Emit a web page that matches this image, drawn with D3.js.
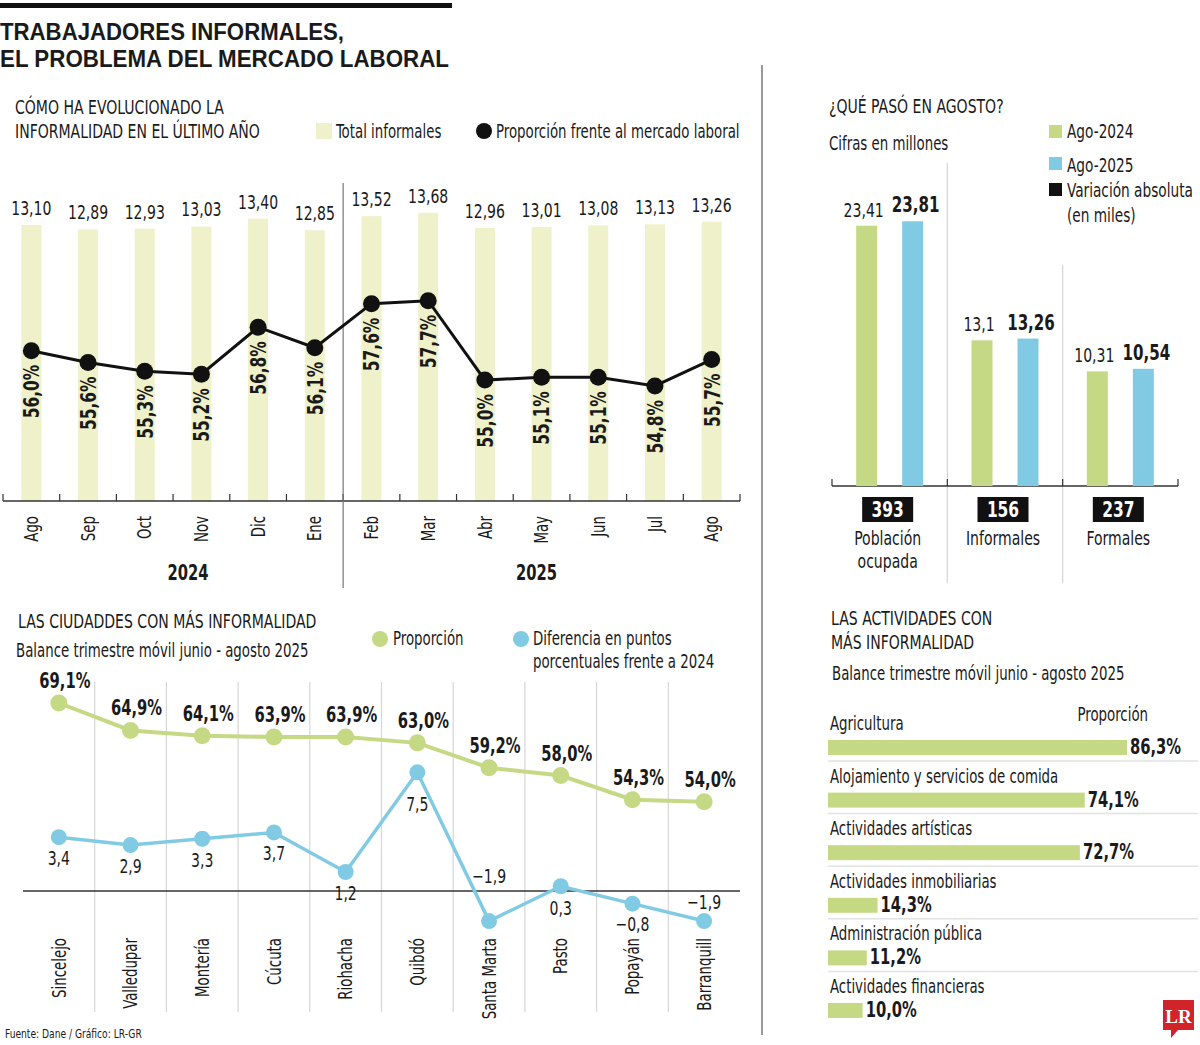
<html>
<script src='https://d3js.org/d3.v7.min.js'></script>
<style>
    body { margin: 0; background: #fff; }
    text { font-family: 'Liberation Sans Narrow', 'DejaVu Sans Condensed', sans-serif; fill: #1a1a1a; }
</style>

<body onload='init()'>
    <svg width=1200 height=1045></svg>
    <script>
        // Data: informales per month (millions) and share of labour market (%)
        const months = ['Ago', 'Sep', 'Oct', 'Nov', 'Dic', 'Ene', 'Feb', 'Mar', 'Abr', 'May', 'Jun', 'Jul', 'Ago'];
        const totalInformales = [13.10, 12.89, 12.93, 13.03, 13.40, 12.85, 13.52, 13.68, 12.96, 13.01, 13.08, 13.13, 13.26];
        const proporcion = [56.0, 55.6, 55.3, 55.2, 56.8, 56.1, 57.6, 57.7, 55.0, 55.1, 55.1, 54.8, 55.7];
        const years = ['2024', '2025'];
        const yearMonths = [6, 7];

        // August comparison
        const grupos = [['Población', 'ocupada'], ['Informales'], ['Formales']];
        const ago2024 = [23.41, 13.1, 10.31];
        const ago2025 = [23.81, 13.26, 10.54];
        const variacion = [393, 156, 237];

        // Cities
        const ciudades = ['Sincelejo', 'Valledupar', 'Montería', 'Cúcuta', 'Riohacha', 'Quibdó', 'Santa Marta', 'Pasto', 'Popayán', 'Barranquill'];
        const propCiudad = [69.1, 64.9, 64.1, 63.9, 63.9, 63.0, 59.2, 58.0, 54.3, 54.0];
        const difCiudad = [3.4, 2.9, 3.3, 3.7, 1.2, 7.5, -1.9, 0.3, -0.8, -1.9];
        const difLabelDy = [28, 28, 28, 28, 28, 39, -38, 29, 27, -12];  // label placement, not data

        // Activities
        const actividades = ['Agricultura', 'Alojamiento y servicios de comida', 'Actividades artísticas', 'Actividades inmobiliarias', 'Administración pública', 'Actividades financieras'];
        const propActividad = [86.3, 74.1, 72.7, 14.3, 11.2, 10.0];

        const PALE = '#eef1c9', GREEN = '#c5d985', BLUE = '#80cbe3', GRID = '#d6d6d6';
        const NARROW = 0.78;  // squeeze the condensed font to the reference width
        const coma = v => String(v).replace('.', ',');
        const f2 = v => d3.format('.2f')(v).replace('.', ',');
        const f1 = v => d3.format('.1f')(v).replace('.', ',');

        function init() {
            const svg = d3.select('svg');

            // Header
            svg.append('rect').attr('x', 0).attr('y', 3).attr('width', 452).attr('height', 5).attr('fill', '#111');
            svg.append('text').attr('x', 0).attr('y', 40).text('TRABAJADORES INFORMALES,')
                .style('font-family', "'Liberation Sans', sans-serif").style('font-weight', 'bold').style('font-size', '24px')
                .attr('textLength', 344).attr('lengthAdjust', 'spacingAndGlyphs');
            svg.append('text').attr('x', 0).attr('y', 67).text('EL PROBLEMA DEL MERCADO LABORAL')
                .style('font-family', "'Liberation Sans', sans-serif").style('font-weight', 'bold').style('font-size', '24px')
                .attr('textLength', 449).attr('lengthAdjust', 'spacingAndGlyphs');

            svg.append('line').attr('x1', 762).attr('x2', 762).attr('y1', 65).attr('y2', 1035)
                .attr('stroke', '#555').attr('stroke-width', 1.2);

            // ---------- Chart 1 ----------
            const g1 = svg.append('g');
            g1.append('text').attr('x', 15).attr('y', 114).style('font-size', '20px').text('CÓMO HA EVOLUCIONADO LA');
            g1.append('text').attr('x', 15).attr('y', 138).style('font-size', '20px').text('INFORMALIDAD EN EL ÚLTIMO AÑO');
            g1.append('rect').attr('x', 316).attr('y', 123).attr('width', 16).attr('height', 16).attr('fill', PALE);
            g1.append('text').attr('x', 336).attr('y', 138).style('font-size', '19px').text('Total informales');
            g1.append('circle').attr('cx', 484).attr('cy', 131).attr('r', 8).attr('fill', '#111');
            g1.append('text').attr('x', 496).attr('y', 138).style('font-size', '19px').text('Proporción frente al mercado laboral');

            const x1 = d3.scalePoint().domain(d3.range(months.length)).range([3, 740]).padding(0.5);
            const step1 = x1.step();
            const yBar = d3.scaleLinear().domain([0, 13.10]).range([501, 225]);
            const yLine = d3.scaleLinear().domain([54, 58]).range([409.5, 291.9]);

            g1.selectAll('.bar').data(totalInformales).enter().append('rect')
                .attr('x', (d, i) => x1(i) - 10).attr('width', 20)
                .attr('y', d => yBar(d)).attr('height', d => yBar(0) - yBar(d))
                .attr('fill', PALE);
            g1.selectAll('.barlab').data(totalInformales).enter().append('text')
                .attr('x', (d, i) => x1(i)).attr('y', d => yBar(d) - 10)
                .attr('text-anchor', 'middle').style('font-size', '20px').text(d => f2(d));

            // axis with boundary ticks
            g1.append('line').attr('x1', 3).attr('x2', 740).attr('y1', 501).attr('y2', 501).attr('stroke', '#333').attr('stroke-width', 1.3);
            g1.selectAll('.tk').data(d3.range(months.length + 1)).enter().append('line')
                .attr('x1', i => 3 + i * step1).attr('x2', i => 3 + i * step1)
                .attr('y1', 494).attr('y2', 501).attr('stroke', '#333').attr('stroke-width', 1.2);
            g1.selectAll('.mlab').data(months).enter().append('text')
                .attr('transform', (d, i) => `translate(${x1(i)},516) rotate(-90)`)
                .attr('dy', '0.35em').attr('text-anchor', 'end').style('font-size', '19px').text(d => d);

            // year split
            g1.append('line').attr('x1', 3 + yearMonths[0] * step1).attr('x2', 3 + yearMonths[0] * step1)
                .attr('y1', 183).attr('y2', 588).attr('stroke', '#777').attr('stroke-width', 1.2);
            let start = 0;
            years.forEach((yr, k) => {
                const end = start + yearMonths[k] - 1;
                g1.append('text').attr('x', (x1(start) + x1(end)) / 2 + (k === 0 ? 15 : -5)).attr('y', 580)
                    .attr('text-anchor', 'middle').style('font-size', '21px').style('font-weight', 'bold').text(yr);
                start += yearMonths[k];
            });

            const line1 = d3.line().x((d, i) => x1(i)).y(d => yLine(d));
            g1.append('path').datum(proporcion).attr('d', line1).attr('fill', 'none').attr('stroke', '#111').attr('stroke-width', 3);
            g1.selectAll('.dot').data(proporcion).enter().append('circle')
                .attr('cx', (d, i) => x1(i)).attr('cy', d => yLine(d)).attr('r', 8.5).attr('fill', '#111');
            g1.selectAll('.plab').data(proporcion).enter().append('text')
                .attr('transform', (d, i) => `translate(${x1(i)},${yLine(d) + 14}) rotate(-90)`)
                .attr('dy', '0.36em').attr('text-anchor', 'end')
                .style('font-size', '22px').style('font-weight', 'bold').text(d => f1(d) + '%');

            // ---------- Chart 2 ----------
            const g2 = svg.append('g');
            g2.append('text').attr('x', 829).attr('y', 113).style('font-size', '20px').text('¿QUÉ PASÓ EN AGOSTO?');
            g2.append('text').attr('x', 829).attr('y', 150).style('font-size', '19px').text('Cifras en millones');
            const leg2 = [['Ago-2024', GREEN, 125, 138], ['Ago-2025', BLUE, 157, 172], ['Variación absoluta', '#111', 183, 197]];
            leg2.forEach(l => {
                g2.append('rect').attr('x', 1049).attr('y', l[2]).attr('width', 13).attr('height', 13).attr('fill', l[1]);
                g2.append('text').attr('x', 1067).attr('y', l[3]).style('font-size', '19.5px').text(l[0]);
            });
            g2.append('text').attr('x', 1067).attr('y', 222).style('font-size', '19.5px').text('(en miles)');

            const x2 = d3.scaleBand().domain(d3.range(grupos.length)).range([832, 1178]);
            const y2 = d3.scaleLinear().domain([0, 23.41]).range([486, 225.7]);
            const sepTop = [163, 265];
            [1, 2].forEach((i, k) => {
                g2.append('line').attr('x1', x2(i)).attr('x2', x2(i)).attr('y1', sepTop[k]).attr('y2', 583)
                    .attr('stroke', GRID).attr('stroke-width', 1.2);
            });
            g2.append('line').attr('x1', 832).attr('x2', 1178).attr('y1', 486).attr('y2', 486).attr('stroke', '#333').attr('stroke-width', 1.3);
            [0, 1, 2, 3].forEach(i => {
                const xx = 832 + i * x2.step();
                g2.append('line').attr('x1', xx).attr('x2', xx).attr('y1', 479).attr('y2', 486).attr('stroke', '#333').attr('stroke-width', 1.2);
            });
            const c2 = i => x2(i) + x2.bandwidth() / 2;
            [[ago2024, GREEN, -23, 'normal', 20, -3], [ago2025, BLUE, 23, 'bold', 21.5, 3]].forEach(s => {
                g2.selectAll(null).data(s[0]).enter().append('rect')
                    .attr('x', (d, i) => c2(i) + s[2] - 10.5).attr('width', 21)
                    .attr('y', d => y2(d)).attr('height', d => y2(0) - y2(d)).attr('fill', s[1]);
                g2.selectAll(null).data(s[0]).enter().append('text')
                    .attr('x', (d, i) => c2(i) + s[2] + s[5]).attr('y', d => y2(d) - 9)
                    .attr('text-anchor', 'middle').style('font-size', s[4] + 'px').style('font-weight', s[3]).text(d => coma(d));
            });
            g2.selectAll('.vbox').data(variacion).enter().append('rect')
                .attr('x', (d, i) => c2(i) - 2 - 25.5).attr('y', 497).attr('width', 51).attr('height', 25).attr('fill', '#111');
            g2.selectAll('.vtxt').data(variacion).enter().append('text')
                .attr('x', (d, i) => c2(i) - 2).attr('y', 517).attr('text-anchor', 'middle')
                .style('font-size', '22px').style('font-weight', 'bold').style('fill', '#fff').text(d => d);
            grupos.forEach((lines, i) => {
                lines.forEach((t, j) => {
                    g2.append('text').attr('x', c2(i) - 2).attr('y', 545 + j * 23).attr('text-anchor', 'middle')
                        .style('font-size', '20px').text(t);
                });
            });

            // ---------- Chart 3 ----------
            const g3 = svg.append('g');
            g3.append('text').attr('x', 18).attr('y', 628).style('font-size', '20px').text('LAS CIUDADDES CON MÁS INFORMALIDAD');
            g3.append('text').attr('x', 16).attr('y', 657).style('font-size', '19px').text('Balance trimestre móvil junio - agosto 2025');
            g3.append('circle').attr('cx', 380).attr('cy', 639).attr('r', 8).attr('fill', GREEN);
            g3.append('text').attr('x', 393).attr('y', 645).style('font-size', '19px').text('Proporción');
            g3.append('circle').attr('cx', 521).attr('cy', 639).attr('r', 8).attr('fill', BLUE);
            g3.append('text').attr('x', 533).attr('y', 645).style('font-size', '19px').text('Diferencia en puntos');
            g3.append('text').attr('x', 533).attr('y', 668).style('font-size', '19px').text('porcentuales frente a 2024');

            const x3 = d3.scalePoint().domain(ciudades).range([23, 740]).padding(0.5);
            const step3 = x3.step();
            const yProp = d3.scaleLinear().domain([54, 69.1]).range([801.7, 703]);
            const yDif = d3.scaleLinear().domain([0, 7.5]).range([891, 772.3]);

            g3.selectAll('.sep').data(d3.range(1, ciudades.length)).enter().append('line')
                .attr('x1', i => 23 + i * step3).attr('x2', i => 23 + i * step3)
                .attr('y1', 682).attr('y2', 1012).attr('stroke', GRID).attr('stroke-width', 1.2);
            g3.append('line').attr('x1', 23).attr('x2', 740).attr('y1', yDif(0)).attr('y2', yDif(0)).attr('stroke', '#333').attr('stroke-width', 1.3);

            const lineP = d3.line().x((d, i) => x3(ciudades[i])).y(d => yProp(d));
            g3.append('path').datum(propCiudad).attr('d', lineP).attr('fill', 'none').attr('stroke', GREEN).attr('stroke-width', 4);
            g3.selectAll('.pd').data(propCiudad).enter().append('circle')
                .attr('cx', (d, i) => x3(ciudades[i])).attr('cy', d => yProp(d)).attr('r', 8.5).attr('fill', GREEN);
            g3.selectAll('.pl').data(propCiudad).enter().append('text')
                .attr('x', (d, i) => x3(ciudades[i]) + 6).attr('y', d => yProp(d) - 15).attr('text-anchor', 'middle')
                .style('font-size', '21px').style('font-weight', 'bold').text(d => f1(d) + '%');

            const lineD = d3.line().x((d, i) => x3(ciudades[i])).y(d => yDif(d));
            g3.append('path').datum(difCiudad).attr('d', lineD).attr('fill', 'none').attr('stroke', BLUE).attr('stroke-width', 3.5);
            g3.selectAll('.dd').data(difCiudad).enter().append('circle')
                .attr('cx', (d, i) => x3(ciudades[i])).attr('cy', d => yDif(d)).attr('r', 8).attr('fill', BLUE);
            g3.selectAll('.dl').data(difCiudad).enter().append('text')
                .attr('x', (d, i) => x3(ciudades[i])).attr('y', (d, i) => yDif(d) + difLabelDy[i]).attr('text-anchor', 'middle')
                .style('font-size', '20px').text(d => f1(d).replace('-', '–'));

            g3.selectAll('.cl').data(ciudades).enter().append('text')
                .attr('transform', d => `translate(${x3(d)},938) rotate(-90)`)
                .attr('dy', '0.35em').attr('text-anchor', 'end').style('font-size', '19px').text(d => d);

            svg.append('text').attr('x', 5).attr('y', 1038).style('font-size', '13px').text('Fuente: Dane / Gráfico: LR-GR');

            // ---------- Chart 4 ----------
            const g4 = svg.append('g');
            g4.append('text').attr('x', 831).attr('y', 625).style('font-size', '20px').text('LAS ACTIVIDADES CON');
            g4.append('text').attr('x', 831).attr('y', 649).style('font-size', '20px').text('MÁS INFORMALIDAD');
            g4.append('text').attr('x', 832).attr('y', 680).style('font-size', '19px').text('Balance trimestre móvil junio - agosto 2025');
            g4.append('text').attr('x', 1148).attr('y', 721).attr('text-anchor', 'end').style('font-size', '19px').text('Proporción');

            const x4 = d3.scaleLinear().domain([0, 86.3]).range([828, 1127]);
            const y4 = d3.scalePoint().domain(actividades).range([740, 1003]);
            g4.selectAll('.ab').data(propActividad).enter().append('rect')
                .attr('x', x4(0)).attr('y', (d, i) => y4(actividades[i]))
                .attr('width', d => x4(d) - x4(0)).attr('height', 15).attr('fill', GREEN);
            g4.selectAll('.av').data(propActividad).enter().append('text')
                .attr('x', d => x4(d) + 3).attr('y', (d, i) => y4(actividades[i]) + 14)
                .style('font-size', '21px').style('font-weight', 'bold').text(d => f1(d) + '%');
            g4.selectAll('.an').data(actividades).enter().append('text')
                .attr('x', 830).attr('y', d => y4(d) - 10).style('font-size', '19px').text(d => d);
            g4.selectAll('.adiv').data(actividades.slice(0, -1)).enter().append('line')
                .attr('x1', 828).attr('x2', 1198).attr('y1', d => y4(d) + 21).attr('y2', d => y4(d) + 21)
                .attr('stroke', '#e2e2e2').attr('stroke-width', 1.5);

            // LR logo
            const lg = svg.append('g');
            lg.append('path').attr('d', 'M1163,1000 H1194 V1030 H1178 L1171,1038 L1171,1030 H1163 Z').attr('fill', '#d1242a');
            lg.append('text').attr('x', 1178.5).attr('y', 1023).attr('text-anchor', 'middle').attr('class', 'keep')
                .style('font-family', "'Liberation Serif', serif").style('font-weight', 'bold').style('font-size', '19px')
                .style('fill', '#fff').text('LR');

            // squeeze every condensed text horizontally
            svg.selectAll('text').each(function () {
                if (this.hasAttribute('textLength') || this.classList.contains('keep')) return;
                const len = this.getComputedTextLength();
                d3.select(this).attr('textLength', len * NARROW).attr('lengthAdjust', 'spacingAndGlyphs');
            });
        }
    </script>
</body>

</html>
